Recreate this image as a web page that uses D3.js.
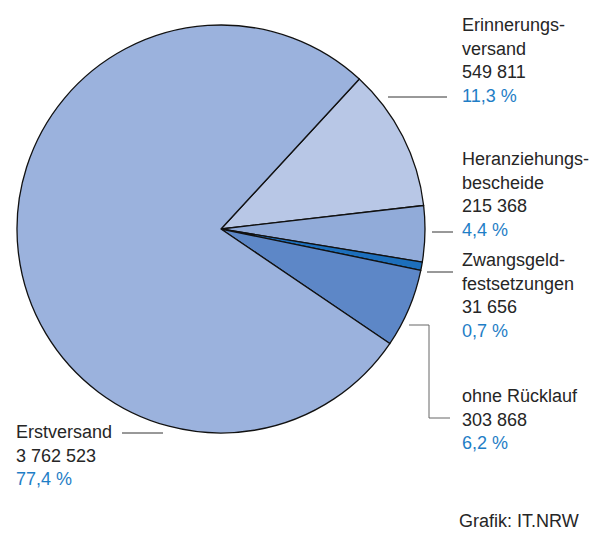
<!DOCTYPE html>
<html>
<head>
<meta charset="utf-8">
<script src="https://cdn.jsdelivr.net/npm/d3@7"></script>
<style>
  body { margin: 0; background: #fff; }
  svg text { font-family: "Liberation Sans", Arial, sans-serif; font-size: 18px; fill: #262626; }
</style>
</head>
<body>
<div id="chart"></div>
<script>
// data
var categories = ["Erinnerungsversand", "Heranziehungsbescheide", "Zwangsgeldfestsetzungen", "ohne Rücklauf", "Erstversand"];
var values = [549811, 215368, 31656, 303868, 3762523];
var valueLabels = ["549 811", "215 368", "31 656", "303 868", "3 762 523"];
var percentLabels = ["11,3 %", "4,4 %", "0,7 %", "6,2 %", "77,4 %"];
var nameLines = [["Erinnerungs-", "versand"], ["Heranziehungs-", "bescheide"], ["Zwangsgeld-", "festsetzungen"], ["ohne Rücklauf"], ["Erstversand"]];
var colors = ["#b8c7e6", "#91abd9", "#1d6fbc", "#5d87c7", "#9bb2dd"];

var width = 595, height = 542;
var cx = 221, cy = 229, radius = 204;
var lineH = 23.7;

// label placement (x, first baseline) and leader lines
var labelPos = [[462, 31], [462, 165], [462, 266], [462, 402], [16, 438]];
var leaders = [
  [[388, 97], [447, 97]],
  [[432, 232], [453, 232]],
  [[427, 272], [453, 272]],
  [[409, 325], [429, 325], [429, 418], [450, 418]],
  [[122, 433], [163, 433]]
];

var svg = d3.select("#chart").append("svg")
  .attr("width", width)
  .attr("height", height);

var start = 0.745;
var pie = d3.pie().sort(null).startAngle(start).endAngle(start + 2 * Math.PI);
var arc = d3.arc().innerRadius(0).outerRadius(radius);

var g = svg.append("g").attr("transform", "translate(" + cx + "," + cy + ")");
g.selectAll("path")
  .data(pie(values))
  .enter()
  .append("path")
  .attr("d", arc)
  .attr("fill", function(d, i) { return colors[i]; })
  .attr("stroke", "#111")
  .attr("stroke-width", 1.3)
  .attr("stroke-linejoin", "round");

// leader lines
svg.selectAll("polyline")
  .data(leaders)
  .enter()
  .append("polyline")
  .attr("points", function(d) { return d.map(function(p) { return p.join(","); }).join(" "); })
  .attr("fill", "none")
  .attr("stroke", function(d, i) { return i == 3 ? "#666" : "#333"; })
  .attr("stroke-width", 1);

// labels
categories.forEach(function(c, i) {
  var lines = nameLines[i].concat([valueLabels[i]]);
  var x = labelPos[i][0], y0 = labelPos[i][1];
  lines.forEach(function(t, k) {
    svg.append("text").attr("x", x).attr("y", y0 + k * lineH).text(t);
  });
  svg.append("text")
    .attr("x", x)
    .attr("y", y0 + lines.length * lineH)
    .style("fill", "#1f7ec6")
    .text(percentLabels[i]);
});

svg.append("text")
  .attr("x", 459)
  .attr("y", 527)
  .text("Grafik: IT.NRW");
</script>
</body>
</html>
